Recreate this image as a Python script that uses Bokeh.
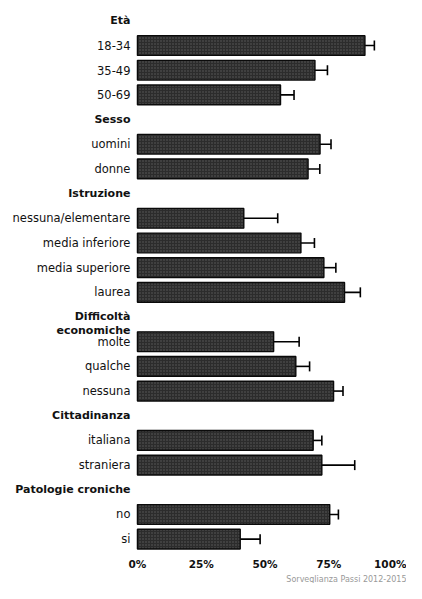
from bokeh.plotting import figure
from bokeh.models import FactorRange, Range1d, FixedTicker, Whisker, ColumnDataSource, Title, TeeHead
from bokeh.core.properties import value
from bokeh.embed import file_html
from bokeh.resources import INLINE

# rows top to bottom: headers (bold) and items
rows = ["Età", "18-34", "35-49", "50-69",
        "Sesso", "uomini", "donne",
        "Istruzione", "nessuna/elementare", "media inferiore", "media superiore", "laurea",
        "Difficoltà\neconomiche", "molte", "qualche", "nessuna",
        "Cittadinanza", "italiana", "straniera",
        "Patologie croniche", "no", "si"]
headers = ["Età", "Sesso", "Istruzione", "Difficoltà\neconomiche", "Cittadinanza", "Patologie croniche"]
items = ["18-34", "35-49", "50-69", "uomini", "donne",
         "nessuna/elementare", "media inferiore", "media superiore", "laurea",
         "molte", "qualche", "nessuna", "italiana", "straniera", "no", "si"]
values = [89.2, 69.6, 56.1, 71.6, 66.9, 41.7, 64.1, 73.1, 81.2, 53.4, 62.1, 76.9, 68.9, 72.3, 75.4, 40.3]
lower = [85.2, 64.7, 51.7, 68.2, 63.3, 30.5, 59.4, 69.7, 74.4, 43.9, 58.0, 73.7, 66.0, 55.1, 72.9, 34.2]
upper = [92.9, 74.5, 61.4, 75.9, 71.5, 55.0, 69.4, 77.8, 87.4, 63.4, 67.5, 80.6, 72.3, 85.2, 78.8, 48.1]
ticks = [0, 0.25, 0.5, 0.75, 1.0]
tick_labels = ["0%", "25%", "50%", "75%", "100%"]
source_text = "Sorveglianza Passi 2012-2015"

FONT = "DejaVu Sans"

p = figure(width=406, height=583, output_backend="svg", toolbar_location=None,
           y_range=FactorRange(factors=list(reversed(rows)), range_padding=0),
           x_range=Range1d(-0.537, 1.055),
           min_border_left=0, min_border_right=0, min_border_top=8, min_border_bottom=0)
p.outline_line_color = None
p.grid.visible = False
p.yaxis.visible = False

src = ColumnDataSource(dict(y=items, v=[x / 100 for x in values],
                            lo=[x / 100 for x in lower], hi=[x / 100 for x in upper]))
p.hbar(y="y", left=0, right="v", height=0.8, source=src,
       fill_color="#2c2c2c", line_color="#0a0a0a", line_width=1.4,
       hatch_pattern="dot", hatch_color="#5e5e5e", hatch_scale=3, hatch_weight=0.8)

w = Whisker(base="y", lower="lo", upper="hi", dimension="width", source=src,
            line_color="black", line_width=1.6,
            lower_head=TeeHead(size=10, line_color="black", line_width=1.6),
            upper_head=TeeHead(size=10, line_color="black", line_width=1.6))
p.add_layout(w)

# item labels
p.text(x=[0] * len(items), y=items, text=items, x_offset=-7,
       text_align="right", text_baseline="middle",
       text_font=value(FONT), text_font_size="11.5px", text_color="#111111")

# header labels (bold)
p.text(x=[0] * len(headers), y=headers, text=headers, x_offset=-7, y_offset=-7,
       text_align="right", text_baseline="top", text_line_height=1.05,
       text_font=value(FONT), text_font_size="11px", text_font_style="bold",
       text_color="#111111")

p.xaxis.ticker = FixedTicker(ticks=ticks)
p.xaxis.major_label_overrides = {t: l for t, l in zip(ticks, tick_labels)}
p.xaxis.axis_line_color = None
p.xaxis.major_tick_line_color = None
p.xaxis.minor_tick_line_color = None
p.xaxis.major_tick_out = 0
p.xaxis.major_tick_in = 0
p.xaxis.major_label_standoff = 6
p.xaxis.major_label_text_font = FONT
p.xaxis.major_label_text_font_size = "10.5px"
p.xaxis.major_label_text_font_style = "bold"
p.xaxis.major_label_text_color = "#111111"

p.add_layout(Title(text=source_text, align="right", text_font=FONT, text_font_size="8px",
                   text_font_style="normal", text_color="#999999", standoff=0,
                   text_line_height=1.0), "below")

open("out.html", "w").write(file_html(p, INLINE))
